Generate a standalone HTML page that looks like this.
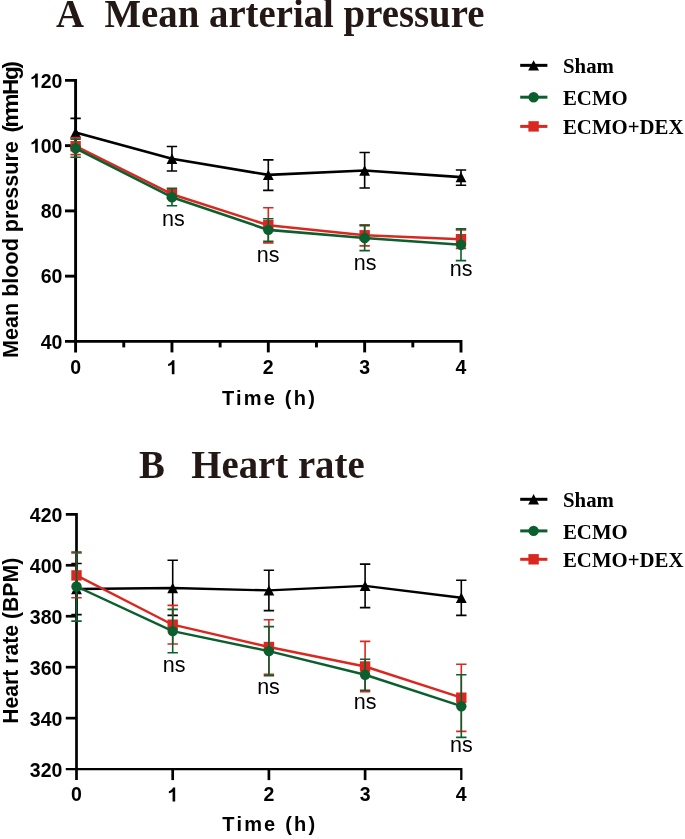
<!DOCTYPE html>
<html><head><meta charset="utf-8"><style>
html,body{margin:0;padding:0;background:#fff;}
svg{display:block;will-change:transform;}
.ti{font-family:"Liberation Serif",serif;font-weight:bold;fill:#231815;}
.tl{font-family:"Liberation Sans",sans-serif;font-weight:bold;font-size:19.5px;fill:#000;}
.tt{font-family:"Liberation Sans",sans-serif;font-weight:bold;font-size:20px;letter-spacing:2.2px;fill:#000;}
.yt{font-family:"Liberation Sans",sans-serif;font-weight:bold;font-size:22.5px;fill:#000;}
.ns{font-family:"Liberation Sans",sans-serif;font-size:21.5px;fill:#000;}
.lg{font-family:"Liberation Serif",serif;font-weight:bold;font-size:20.8px;fill:#000;}
</style></head><body>
<svg width="685" height="839" viewBox="0 0 685 839">
<defs><path id="one" d="M831,0H556V1020Q400,890 165,862V1078Q300,1122 430,1232Q548,1340 602,1466H831Z"/></defs>
<rect width="685" height="839" fill="#fff"/>
<text transform="translate(56,27.1) scale(0.97,1)" class="ti" font-size="40">A</text>
<text transform="translate(104.5,27.1) scale(0.97,1)" class="ti" font-size="40">Mean arterial pressure</text>
<text transform="translate(139,478.4) scale(0.97,1)" class="ti" font-size="40">B</text>
<text transform="translate(191.3,478.2) scale(0.97,1)" class="ti" font-size="40">Heart rate</text>
<path d="M65,80.4H75.6V352.4" fill="none" stroke="#000" stroke-width="2.9" stroke-linejoin="miter"/>
<path d="M65,341.4H461V352.4" fill="none" stroke="#000" stroke-width="2.9" stroke-linejoin="miter"/>
<path d="M65,145.65H75.6" stroke="#000" stroke-width="2.9"/>
<path d="M65,210.9H75.6" stroke="#000" stroke-width="2.9"/>
<path d="M65,276.15H75.6" stroke="#000" stroke-width="2.9"/>
<path d="M171.95,341.4V352.4" stroke="#000" stroke-width="2.9"/>
<path d="M268.3,341.4V352.4" stroke="#000" stroke-width="2.9"/>
<path d="M364.65,341.4V352.4" stroke="#000" stroke-width="2.9"/>
<path d="M123.77,341.4V347.4" stroke="#000" stroke-width="2.9"/>
<path d="M220.12,341.4V347.4" stroke="#000" stroke-width="2.9"/>
<path d="M316.47,341.4V347.4" stroke="#000" stroke-width="2.9"/>
<path d="M412.82,341.4V347.4" stroke="#000" stroke-width="2.9"/>
<use href="#one" transform="translate(29.87,87.5) scale(0.009521,-0.009521)"/>
<text x="62.4" y="87.5" text-anchor="end" class="tl">20</text>
<use href="#one" transform="translate(29.87,152.75) scale(0.009521,-0.009521)"/>
<text x="62.4" y="152.75" text-anchor="end" class="tl">00</text>
<text x="62.4" y="218" text-anchor="end" class="tl">80</text>
<text x="62.4" y="283.25" text-anchor="end" class="tl">60</text>
<text x="62.4" y="348.5" text-anchor="end" class="tl">40</text>
<text x="75.6" y="374.3" text-anchor="middle" class="tl">0</text>
<use href="#one" transform="translate(166.53,374.3) scale(0.009521,-0.009521)"/>
<text x="268.3" y="374.3" text-anchor="middle" class="tl">2</text>
<text x="364.65" y="374.3" text-anchor="middle" class="tl">3</text>
<text x="461" y="374.3" text-anchor="middle" class="tl">4</text>
<text x="269.5" y="405" text-anchor="middle" class="tt">Time (h)</text>
<g transform="translate(17.6,0) rotate(-90)" class="yt"><text x="-357.9" y="0" textLength="216.7" lengthAdjust="spacingAndGlyphs">Mean blood pressure</text><text x="-132.4 -127.4 -113.4 -94.9 -80 -68.6" y="0">(mmHg)</text></g>
<path d="M75.6,118.35V146.65M70.4,118.35H80.8M70.4,146.65H80.8" stroke="#000" stroke-width="1.6" fill="none"/>
<path d="M171.95,146.5V171M166.75,146.5H177.15M166.75,171H177.15" stroke="#000" stroke-width="1.6" fill="none"/>
<path d="M268.3,159.9V190.4M263.1,159.9H273.5M263.1,190.4H273.5" stroke="#000" stroke-width="1.6" fill="none"/>
<path d="M364.65,152.5V188M359.45,152.5H369.85M359.45,188H369.85" stroke="#000" stroke-width="1.6" fill="none"/>
<path d="M461,170V185.2M455.8,170H466.2M455.8,185.2H466.2" stroke="#000" stroke-width="1.6" fill="none"/>
<polyline points="75.6,132.5 171.95,158.8 268.3,174.9 364.65,170.5 461,177.1" fill="none" stroke="#000" stroke-width="2.6" stroke-linejoin="round"/>
<path d="M75.6,127.3L81,137.7H70.2Z" fill="#000"/>
<path d="M171.95,153.6L177.35,164H166.55Z" fill="#000"/>
<path d="M268.3,169.7L273.7,180.1H262.9Z" fill="#000"/>
<path d="M364.65,165.3L370.05,175.7H359.25Z" fill="#000"/>
<path d="M461,171.9L466.4,182.3H455.6Z" fill="#000"/>
<path d="M75.6,137.6V154.6M70.4,137.6H80.8M70.4,154.6H80.8" stroke="#da2820" stroke-width="1.6" fill="none"/>
<path d="M171.95,190.5V198M166.75,190.5H177.15M166.75,198H177.15" stroke="#da2820" stroke-width="1.6" fill="none"/>
<path d="M268.3,207.7V242.9M263.1,207.7H273.5M263.1,242.9H273.5" stroke="#da2820" stroke-width="1.6" fill="none"/>
<path d="M364.65,224.8V245.9M359.45,224.8H369.85M359.45,245.9H369.85" stroke="#da2820" stroke-width="1.6" fill="none"/>
<path d="M461,230V248.4M455.8,230H466.2M455.8,248.4H466.2" stroke="#da2820" stroke-width="1.6" fill="none"/>
<polyline points="75.6,146.2 171.95,194.2 268.3,225.2 364.65,235.3 461,239.2" fill="none" stroke="#da2820" stroke-width="2.6" stroke-linejoin="round"/>
<rect x="70.4" y="141" width="10.4" height="10.4" fill="#da2820"/>
<rect x="166.75" y="189" width="10.4" height="10.4" fill="#da2820"/>
<rect x="263.1" y="220" width="10.4" height="10.4" fill="#da2820"/>
<rect x="359.45" y="230.1" width="10.4" height="10.4" fill="#da2820"/>
<rect x="455.8" y="234" width="10.4" height="10.4" fill="#da2820"/>
<path d="M75.6,139.1V157.3M70.4,139.1H80.8M70.4,157.3H80.8" stroke="#0b5e2e" stroke-width="1.6" fill="none"/>
<path d="M171.95,188.2V205.8M166.75,188.2H177.15M166.75,205.8H177.15" stroke="#0b5e2e" stroke-width="1.6" fill="none"/>
<path d="M268.3,218.7V241.2M263.1,218.7H273.5M263.1,241.2H273.5" stroke="#0b5e2e" stroke-width="1.6" fill="none"/>
<path d="M364.65,225.6V250.6M359.45,225.6H369.85M359.45,250.6H369.85" stroke="#0b5e2e" stroke-width="1.6" fill="none"/>
<path d="M461,228.9V260.6M455.8,228.9H466.2M455.8,260.6H466.2" stroke="#0b5e2e" stroke-width="1.6" fill="none"/>
<polyline points="75.6,148.3 171.95,197.2 268.3,229.9 364.65,238 461,244.7" fill="none" stroke="#0b5e2e" stroke-width="2.6" stroke-linejoin="round"/>
<circle cx="75.6" cy="148.3" r="5.2" fill="#0b5e2e"/>
<circle cx="171.95" cy="197.2" r="5.2" fill="#0b5e2e"/>
<circle cx="268.3" cy="229.9" r="5.2" fill="#0b5e2e"/>
<circle cx="364.65" cy="238" r="5.2" fill="#0b5e2e"/>
<circle cx="461" cy="244.7" r="5.2" fill="#0b5e2e"/>
<text x="173.4" y="225.8" text-anchor="middle" class="ns">ns</text>
<text x="268.2" y="261.7" text-anchor="middle" class="ns">ns</text>
<text x="365.2" y="270.1" text-anchor="middle" class="ns">ns</text>
<text x="461.1" y="275.5" text-anchor="middle" class="ns">ns</text>
<path d="M520.2,65.35H547.4" stroke="#000" stroke-width="3"/>
<path d="M533.6,60.15L539,70.55H528.2Z" fill="#000"/>
<text x="563" y="72.95" class="lg">Sham</text>
<path d="M520.2,97.2H547.4" stroke="#0b5e2e" stroke-width="3"/>
<circle cx="533.6" cy="97.2" r="5.2" fill="#0b5e2e"/>
<text x="563" y="104.8" class="lg">ECMO</text>
<path d="M520.2,126.4H547.4" stroke="#da2820" stroke-width="3"/>
<rect x="528.4" y="121.2" width="10.4" height="10.4" fill="#da2820"/>
<text x="563" y="134" class="lg">ECMO+DEX</text>
<path d="M65.8,514.3H76.5V780.1" fill="none" stroke="#000" stroke-width="2.7" stroke-linejoin="miter"/>
<path d="M65.8,769.1H461.3V780.1" fill="none" stroke="#000" stroke-width="2.3" stroke-linejoin="miter"/>
<path d="M65.8,565.26H76.5" stroke="#000" stroke-width="2.7"/>
<path d="M65.8,616.22H76.5" stroke="#000" stroke-width="2.7"/>
<path d="M65.8,667.18H76.5" stroke="#000" stroke-width="2.7"/>
<path d="M65.8,718.14H76.5" stroke="#000" stroke-width="2.7"/>
<path d="M172.7,769.1V780.1" stroke="#000" stroke-width="2.7"/>
<path d="M268.9,769.1V780.1" stroke="#000" stroke-width="2.7"/>
<path d="M365.1,769.1V780.1" stroke="#000" stroke-width="2.7"/>
<text x="62.4" y="521.7" text-anchor="end" class="tl">420</text>
<text x="62.4" y="572.66" text-anchor="end" class="tl">400</text>
<text x="62.4" y="623.62" text-anchor="end" class="tl">380</text>
<text x="62.4" y="674.58" text-anchor="end" class="tl">360</text>
<text x="62.4" y="725.54" text-anchor="end" class="tl">340</text>
<text x="62.4" y="776.5" text-anchor="end" class="tl">320</text>
<text x="76.5" y="801.4" text-anchor="middle" class="tl">0</text>
<use href="#one" transform="translate(167.28,801.4) scale(0.009521,-0.009521)"/>
<text x="268.9" y="801.4" text-anchor="middle" class="tl">2</text>
<text x="365.1" y="801.4" text-anchor="middle" class="tl">3</text>
<text x="461.3" y="801.4" text-anchor="middle" class="tl">4</text>
<text x="269.85" y="831.4" text-anchor="middle" class="tt">Time (h)</text>
<g transform="translate(17.6,0) rotate(-90)" class="yt"><text x="-723.8" y="0" textLength="166" lengthAdjust="spacingAndGlyphs">Heart rate (BPM)</text></g>
<path d="M76.5,563.5V614.6M71.3,563.5H81.7M71.3,614.6H81.7" stroke="#000" stroke-width="1.6" fill="none"/>
<path d="M172.7,560.3V615.4M167.5,560.3H177.9M167.5,615.4H177.9" stroke="#000" stroke-width="1.6" fill="none"/>
<path d="M268.9,570.2V610.6M263.7,570.2H274.1M263.7,610.6H274.1" stroke="#000" stroke-width="1.6" fill="none"/>
<path d="M365.1,564.1V607.6M359.9,564.1H370.3M359.9,607.6H370.3" stroke="#000" stroke-width="1.6" fill="none"/>
<path d="M461.3,580.2V615.4M456.1,580.2H466.5M456.1,615.4H466.5" stroke="#000" stroke-width="1.6" fill="none"/>
<polyline points="76.5,589 172.7,588 268.9,590.4 365.1,585.85 461.3,597.8" fill="none" stroke="#000" stroke-width="2.4" stroke-linejoin="round"/>
<path d="M76.5,583.8L81.9,594.2H71.1Z" fill="#000"/>
<path d="M172.7,582.8L178.1,593.2H167.3Z" fill="#000"/>
<path d="M268.9,585.2L274.3,595.6H263.5Z" fill="#000"/>
<path d="M365.1,580.65L370.5,591.05H359.7Z" fill="#000"/>
<path d="M461.3,592.6L466.7,603H455.9Z" fill="#000"/>
<path d="M76.5,553V597.8M71.3,553H81.7M71.3,597.8H81.7" stroke="#da2820" stroke-width="1.6" fill="none"/>
<path d="M172.7,605.4V644M167.5,605.4H177.9M167.5,644H177.9" stroke="#da2820" stroke-width="1.6" fill="none"/>
<path d="M268.9,619.7V674.3M263.7,619.7H274.1M263.7,674.3H274.1" stroke="#da2820" stroke-width="1.6" fill="none"/>
<path d="M365.1,641.4V691.7M359.9,641.4H370.3M359.9,691.7H370.3" stroke="#da2820" stroke-width="1.6" fill="none"/>
<path d="M461.3,664.2V731.4M456.1,664.2H466.5M456.1,731.4H466.5" stroke="#da2820" stroke-width="1.6" fill="none"/>
<polyline points="76.5,575.4 172.7,624.7 268.9,647 365.1,666.5 461.3,697.7" fill="none" stroke="#da2820" stroke-width="2.4" stroke-linejoin="round"/>
<rect x="71.3" y="570.2" width="10.4" height="10.4" fill="#da2820"/>
<rect x="167.5" y="619.5" width="10.4" height="10.4" fill="#da2820"/>
<rect x="263.7" y="641.8" width="10.4" height="10.4" fill="#da2820"/>
<rect x="359.9" y="661.3" width="10.4" height="10.4" fill="#da2820"/>
<rect x="456.1" y="692.5" width="10.4" height="10.4" fill="#da2820"/>
<path d="M76.5,552V621.1M71.3,552H81.7M71.3,621.1H81.7" stroke="#0b5e2e" stroke-width="1.6" fill="none"/>
<path d="M172.7,609.4V652.8M167.5,609.4H177.9M167.5,652.8H177.9" stroke="#0b5e2e" stroke-width="1.6" fill="none"/>
<path d="M268.9,626.6V675.6M263.7,626.6H274.1M263.7,675.6H274.1" stroke="#0b5e2e" stroke-width="1.6" fill="none"/>
<path d="M365.1,659.3V690.2M359.9,659.3H370.3M359.9,690.2H370.3" stroke="#0b5e2e" stroke-width="1.6" fill="none"/>
<path d="M461.3,674.7V737.4M456.1,674.7H466.5M456.1,737.4H466.5" stroke="#0b5e2e" stroke-width="1.6" fill="none"/>
<polyline points="76.5,586.5 172.7,631.1 268.9,651.1 365.1,674.75 461.3,706.2" fill="none" stroke="#0b5e2e" stroke-width="2.4" stroke-linejoin="round"/>
<circle cx="76.5" cy="586.5" r="5.2" fill="#0b5e2e"/>
<circle cx="172.7" cy="631.1" r="5.2" fill="#0b5e2e"/>
<circle cx="268.9" cy="651.1" r="5.2" fill="#0b5e2e"/>
<circle cx="365.1" cy="674.75" r="5.2" fill="#0b5e2e"/>
<circle cx="461.3" cy="706.2" r="5.2" fill="#0b5e2e"/>
<text x="174.2" y="671.5" text-anchor="middle" class="ns">ns</text>
<text x="268.5" y="693.9" text-anchor="middle" class="ns">ns</text>
<text x="365.1" y="709" text-anchor="middle" class="ns">ns</text>
<text x="461.3" y="751.7" text-anchor="middle" class="ns">ns</text>
<path d="M520.2,499.3H547.4" stroke="#000" stroke-width="3"/>
<path d="M533.6,494.1L539,504.5H528.2Z" fill="#000"/>
<text x="563" y="506.9" class="lg">Sham</text>
<path d="M520.2,530.9H547.4" stroke="#0b5e2e" stroke-width="3"/>
<circle cx="533.6" cy="530.9" r="5.2" fill="#0b5e2e"/>
<text x="563" y="538.5" class="lg">ECMO</text>
<path d="M520.2,559.3H547.4" stroke="#da2820" stroke-width="3"/>
<rect x="528.4" y="554.1" width="10.4" height="10.4" fill="#da2820"/>
<text x="563" y="566.9" class="lg">ECMO+DEX</text>
</svg>
</body></html>
